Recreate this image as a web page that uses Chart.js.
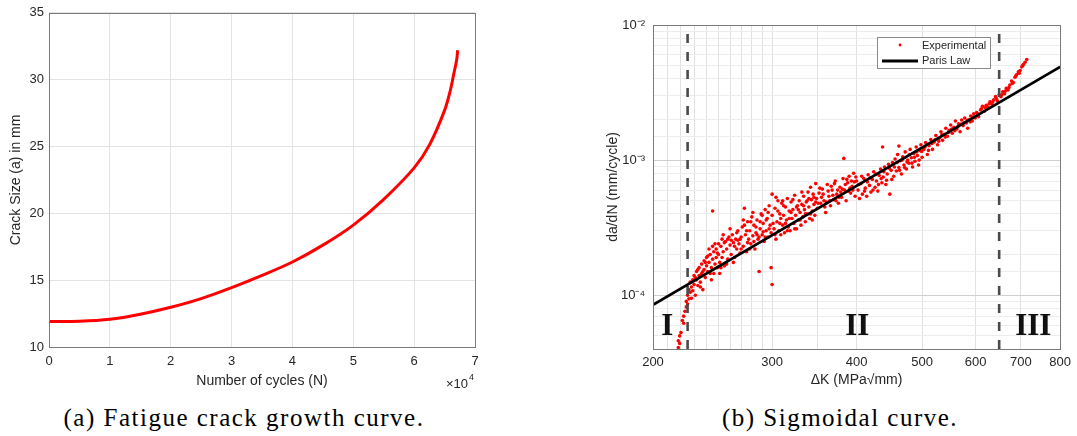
<!DOCTYPE html>
<html>
<head>
<meta charset="utf-8">
<script src="https://cdn.jsdelivr.net/npm/chart.js@4.4.0/dist/chart.umd.min.js"></script>
<style>
    html, body { margin: 0; padding: 0; background: #fff; }
    body { width: 1077px; height: 436px; position: relative; overflow: hidden; }
    .panel { position: absolute; top: 0; height: 400px; }
    #panelA { left: 0; width: 540px; }
    #panelB { left: 590px; width: 487px; }
    .caption {
        position: absolute; top: 404px;
        font-family: "Liberation Serif", serif; font-size: 25px; letter-spacing: 1.5px;
        color: #000; white-space: nowrap; transform: translateX(-50%);
    }
</style>
</head>
<body>
<div class="panel" id="panelA"><canvas id="crackChart"></canvas></div>
<div class="panel" id="panelB"><canvas id="parisChart"></canvas></div>
<div class="caption" style="left:244px">(a) Fatigue crack growth curve.</div>
<div class="caption" style="left:840px">(b) Sigmoidal curve.</div>

<script>
// -------- Datos (a) --------
const cycles = [0, 5000, 10000, 15000, 20000, 25000, 30000, 35000, 40000, 45000,
    50000, 55000, 60000, 62500, 65000, 66000, 66500, 67000, 67150];
const crackSize = [11.9, 11.92, 12.07, 12.45, 12.97, 13.62, 14.44, 15.36, 16.36, 17.62,
    19.12, 21.05, 23.4, 25.1, 27.7, 29.3, 30.4, 31.5, 32.2];

// -------- Datos (b) --------
const kTicks = [200, 300, 400, 500, 600, 700, 800];
const rateRange = [4e-5, 1e-2];
const parisK = [200, 800];
const parisRate = [8.5e-5, 4.9e-3];
const regionBounds = [225, 650];
const regionNames = ['I', 'II', 'III'];
const regionLabelK = [210, 401, 730];
const regionLabelRate = 5.85e-5;

// [ΔK, da/dN]
const experimental = [
    [218,4.1e-5],[218,4.6e-5],[219,5.0e-5],[219,4.4e-5],[220,5.3e-5],[221,6.5e-5],[222,7.0e-5],[222,6.2e-5],
    [223,7.6e-5],[224,8.2e-5],[224,9.0e-5],[225,8.6e-5],[225,1.0e-4],[226,9.4e-5],[226,1.1e-4],
    [227,1.05e-4],[227,1.25e-4],[228,1.15e-4],[228,0.95e-4],[229,1.3e-4],[229,1.08e-4],[230,1.4e-4],
    [230,1.2e-4],[231,1.0e-4],[231,1.35e-4],[232,1.5e-4],[232,1.3e-4],[233,1.18e-4],[233,1.55e-4],
    [234,1.6e-4],[234,1.4e-4],[235,1.25e-4],[235,1.15e-4],[236,1.7e-4],[236,1.45e-4],[237,1.1e-4],
    [237,1.5e-4],[238,1.55e-4],[238,1.8e-4],[239,1.35e-4],[239,1.75e-4],[240,1.65e-4],[240,1.9e-4],
    [241,1.5e-4],[241,1.95e-4],[242,1.75e-4],[242,2.2e-4],[243,2.0e-4],[243,1.45e-4],[244,1.6e-4],
    [244,1.3e-4],[245,4.2e-4],[245,1.85e-4],[245,2.3e-4],[246,2.1e-4],[246,1.45e-4],[247,1.7e-4],
    [247,2.4e-4],[248,2.2e-4],[248,1.9e-4],[249,1.6e-4],[249,2.05e-4],[250,2.4e-4],[250,2.0e-4],
    [251,1.75e-4],[251,1.45e-4],[252,2.3e-4],[252,1.6e-4],[253,2.6e-4],[253,1.9e-4],[254,2.1e-4],
    [254,2.8e-4],[255,1.65e-4],[255,2.45e-4],[256,2.5e-4],[257,2.2e-4],[257,1.7e-4],[258,1.85e-4],
    [258,2.6e-4],[259,2.7e-4],[260,2.35e-4],[260,3.1e-4],[261,2.0e-4],[261,2.55e-4],[262,2.8e-4],
    [263,2.45e-4],[263,1.75e-4],[264,1.9e-4],[264,2.3e-4],[265,2.6e-4],[266,2.2e-4],[266,2.9e-4],
    [267,3.0e-4],[267,2.55e-4],[268,2.4e-4],[269,2.05e-4],[269,2.6e-4],[270,2.7e-4],[270,2.2e-4],
    [271,3.2e-4],[272,2.3e-4],[272,3.6e-4],[273,4.4e-4],[273,3.3e-4],[274,2.8e-4],[275,2.1e-4],
    [275,3.0e-4],[276,3.5e-4],[276,2.45e-4],[277,2.6e-4],[278,3.0e-4],[278,2.2e-4],[279,2.4e-4],
    [279,3.5e-4],[280,3.8e-4],[281,2.75e-4],[281,4.1e-4],[282,3.3e-4],[282,2.5e-4],[283,2.2e-4],
    [284,2.9e-4],[284,3.2e-4],[285,3.6e-4],[285,2.8e-4],[286,2.6e-4],[287,1.5e-4],[287,2.7e-4],
    [288,3.1e-4],[288,3.5e-4],[289,4.0e-4],[290,2.8e-4],[290,3.9e-4],[291,3.4e-4],[291,2.95e-4],
    [292,2.5e-4],[293,4.3e-4],[293,2.7e-4],[294,3.0e-4],[294,3.6e-4],[295,3.7e-4],[296,2.7e-4],
    [296,4.1e-4],[297,4.6e-4],[297,3.1e-4],[298,3.3e-4],[299,2.9e-4],[299,1.6e-4],[300,1.2e-4],
    [300,5.6e-4],[300,3.9e-4],[301,3.4e-4],[302,3.1e-4],[303,4.4e-4],[303,2.8e-4],[304,2.6e-4],
    [304,5.3e-4],[305,3.5e-4],[306,5.0e-4],[306,4.2e-4],[307,3.0e-4],[308,4.0e-4],[308,3.4e-4],
    [309,2.8e-4],[309,3.7e-4],[310,4.8e-4],[311,3.3e-4],[311,5.0e-4],[312,3.9e-4],[312,4.6e-4],
    [313,2.9e-4],[314,4.5e-4],[314,3.4e-4],[315,3.6e-4],[316,5.2e-4],[316,3.0e-4],[317,3.2e-4],
    [318,4.2e-4],[318,3.7e-4],[319,3.0e-4],[320,4.9e-4],[320,4.1e-4],[321,3.7e-4],[322,4.3e-4],
    [322,5.1e-4],[323,3.4e-4],[324,5.5e-4],[324,3.1e-4],[325,3.9e-4],[326,3.1e-4],[326,4.5e-4],
    [327,4.6e-4],[328,3.6e-4],[328,4.3e-4],[329,5.0e-4],[330,4.1e-4],[330,3.6e-4],[331,3.3e-4],
    [332,4.7e-4],[332,5.8e-4],[333,3.8e-4],[334,5.4e-4],[334,4.6e-4],[335,4.3e-4],[336,3.5e-4],
    [336,4.0e-4],[337,4.9e-4],[338,4.0e-4],[338,5.0e-4],[339,5.8e-4],[340,4.5e-4],[340,5.2e-4],
    [341,3.7e-4],[342,6.3e-4],[342,4.0e-4],[343,5.1e-4],[344,4.2e-4],[344,3.6e-4],[345,5.6e-4],
    [346,4.7e-4],[346,5.3e-4],[347,3.9e-4],[348,6.7e-4],[348,4.9e-4],[349,5.2e-4],[350,4.4e-4],
    [351,4.8e-4],[352,5.7e-4],[353,6.2e-4],[354,4.8e-4],[355,5.3e-4],[356,6.1e-4],[357,5.6e-4],
    [358,5.0e-4],[359,4.5e-4],[360,4.1e-4],[361,4.9e-4],[362,6.6e-4],[363,5.9e-4],[364,5.4e-4],
    [365,5.0e-4],[366,4.6e-4],[367,6.4e-4],[368,6.0e-4],[369,5.5e-4],[370,5.1e-4],[371,6.7e-4],
    [372,7.0e-4],[373,5.0e-4],[374,5.6e-4],[375,6.0e-4],[376,4.8e-4],[377,5.3e-4],[378,6.3e-4],
    [379,5.8e-4],[380,5.3e-4],[381,6.1e-4],[382,7.3e-4],[383,1.03e-3],[384,6.0e-4],[385,6.6e-4],
    [386,5.0e-4],[387,7.2e-4],[388,6.8e-4],[389,5.9e-4],[390,7.6e-4],[391,6.2e-4],[392,5.7e-4],
    [393,7.0e-4],[394,6.4e-4],[395,6.0e-4],[396,8.0e-4],[397,6.9e-4],[398,5.4e-4],[399,7.5e-4],
    [400,7.0e-4],[402,6.0e-4],[403,6.6e-4],[404,5.2e-4],[406,6.7e-4],[407,7.6e-4],[408,5.6e-4],
    [410,7.3e-4],[411,5.9e-4],[412,6.2e-4],[414,5.4e-4],[415,6.9e-4],[416,7.8e-4],[418,6.5e-4],
    [419,7.4e-4],[420,5.8e-4],[422,7.2e-4],[423,6.0e-4],[424,8.2e-4],[426,6.3e-4],[427,7.9e-4],
    [428,7.0e-4],[430,5.9e-4],[431,6.6e-4],[432,7.7e-4],[434,8.6e-4],[435,7.3e-4],[436,6.8e-4],
    [437,1.25e-3],[438,7.5e-4],[439,8.2e-4],[440,8.9e-4],[442,6.6e-4],[443,7.1e-4],[444,7.9e-4],
    [446,9.3e-4],[447,8.7e-4],[448,5.6e-4],[450,8.4e-4],[451,7.2e-4],[452,9.6e-4],[454,7.6e-4],
    [455,8.9e-4],[456,1.02e-3],[458,8.3e-4],[459,9.6e-4],[460,1.1e-3],[462,1.27e-3],[462,8.8e-4],
    [463,8.4e-4],[464,9.9e-4],[466,7.9e-4],[467,1.0e-3],[468,1.06e-3],[470,9.2e-4],[471,8.8e-4],
    [472,1.15e-3],[474,8.6e-4],[475,9.7e-4],[476,1.0e-3],[478,9.5e-4],[479,1.1e-3],[480,1.2e-3],
    [482,1.04e-3],[483,9.5e-4],[484,8.9e-4],[486,1.12e-3],[487,1.05e-3],[488,9.8e-4],[490,1.25e-3],
    [491,1.15e-3],[492,1.08e-3],[494,9.2e-4],[495,1.0e-3],[496,1.18e-3],[498,1.3e-3],[499,1.16e-3],
    [500,1.05e-3],[503,1.2e-3],[505,1.25e-3],[506,1.35e-3],[509,1.1e-3],[511,1.18e-3],[512,1.28e-3],
    [515,1.42e-3],[517,1.33e-3],[518,1.2e-3],[521,1.36e-3],[523,1.42e-3],[524,1.52e-3],[527,1.3e-3],
    [529,1.38e-3],[530,1.45e-3],[533,1.62e-3],[535,1.55e-3],[536,1.4e-3],[539,1.55e-3],[541,1.48e-3],
    [542,1.72e-3],[545,1.5e-3],[547,1.6e-3],[548,1.66e-3],[551,1.82e-3],[553,1.7e-3],[554,1.58e-3],
    [557,1.75e-3],[559,1.65e-3],[560,1.95e-3],[563,1.7e-3],[565,1.78e-3],[566,1.86e-3],[569,1.62e-3],
    [571,1.85e-3],[572,1.98e-3],[575,1.8e-3],[577,1.9e-3],[578,2.05e-3],[581,1.88e-3],[583,1.97e-3],
    [584,1.72e-3],[587,2.0e-3],[589,1.92e-3],[590,2.12e-3],[593,1.95e-3],[595,2.08e-3],[596,2.2e-3],
    [599,2.05e-3],[602,2.25e-3],[604,2.2e-3],[606,2.1e-3],[610,2.35e-3],[612,2.4e-3],[614,2.5e-3],
    [618,2.3e-3],[620,2.45e-3],[622,2.55e-3],[626,2.45e-3],[628,2.6e-3],[630,2.7e-3],[634,2.6e-3],
    [636,2.7e-3],[638,2.8e-3],[642,2.95e-3],[644,2.85e-3],[646,2.75e-3],[650,3.05e-3],[654,2.95e-3],
    [656,3.05e-3],[658,3.2e-3],[662,3.1e-3],[664,3.25e-3],[666,3.4e-3],[670,3.3e-3],[672,3.45e-3],
    [674,3.6e-3],[678,3.85e-3],[680,3.7e-3],[682,3.75e-3],[686,4.1e-3],[688,4.2e-3],[690,4.3e-3],
    [694,4.5e-3],[696,4.4e-3],[698,4.6e-3],[702,4.9e-3],[704,5.0e-3],[706,5.1e-3],[710,5.3e-3],
    [714,5.55e-3]
];

const FONT = '"Liberation Sans", Arial, sans-serif';
const TEXT = '#262626';

// -------- Plugins --------

// marco alrededor del área (estilo MATLAB)
const frameBox = {
    id: 'frameBox',
    afterDraw(chart) {
        const { ctx, chartArea: a } = chart;
        ctx.save();
        ctx.strokeStyle = '#7a7a7a';
        ctx.lineWidth = 1;
        ctx.strokeRect(Math.round(a.left) + 0.5, Math.round(a.top) + 0.5,
            Math.round(a.right - a.left), Math.round(a.bottom - a.top));
        ctx.restore();
    }
};

const exponentLabel = {
    id: 'exponentLabel',
    afterDraw(chart) {
        const { ctx, chartArea: a } = chart;
        ctx.save();
        ctx.fillStyle = TEXT;
        ctx.textBaseline = 'alphabetic';
        ctx.textAlign = 'right';
        ctx.font = `9px ${FONT}`;
        ctx.fillText('4', a.right - 1, a.bottom + 33);
        ctx.font = `13px ${FONT}`;
        ctx.fillText('\u00d710', a.right - 7, a.bottom + 41);
        ctx.restore();
    }
};

const parisExtras = {
    id: 'parisExtras',
    afterDatasetsDraw(chart) {
        const { ctx, scales: { x, y } } = chart;
        ctx.save();

        // números romanos
        ctx.fillStyle = '#111';
        ctx.font = 'bold 31px "Liberation Serif", serif';
        ctx.textAlign = 'center';
        ctx.textBaseline = 'middle';
        regionNames.forEach((name, i) => {
            ctx.fillText(name, x.getPixelForValue(regionLabelK[i]), y.getPixelForValue(regionLabelRate));
        });

        // leyenda
        const lx = 287, ly = 37, lw = 113, lh = 31;
        ctx.fillStyle = '#fff';
        ctx.fillRect(lx, ly, lw, lh);
        ctx.strokeStyle = '#8a8a8a';
        ctx.lineWidth = 1;
        ctx.strokeRect(lx + 0.5, ly + 0.5, lw, lh);

        ctx.fillStyle = '#ff0000';
        ctx.beginPath();
        ctx.arc(310, 45, 1.4, 0, Math.PI * 2);
        ctx.fill();

        ctx.strokeStyle = '#000';
        ctx.lineWidth = 2.8;
        ctx.beginPath();
        ctx.moveTo(292, 61);
        ctx.lineTo(328, 61);
        ctx.stroke();

        ctx.fillStyle = TEXT;
        ctx.font = `11px ${FONT}`;
        ctx.textAlign = 'left';
        ctx.fillText('Experimental', 332, 46);
        ctx.fillText('Paris Law', 332, 61);
        ctx.restore();
    }
};

// -------- Helpers --------

const SUP = { '-': '\u207b', '0': '\u2070', '1': '\u00b9', '2': '\u00b2', '3': '\u00b3',
    '4': '\u2074', '5': '\u2075', '6': '\u2076', '7': '\u2077', '8': '\u2078', '9': '\u2079' };

function isDecade(v) {
    const l = Math.log10(v);
    return Math.abs(l - Math.round(l)) < 1e-6;
}

function decadeLabel(v) {
    const e = String(Math.round(Math.log10(v)));
    return '10' + e.split('').map(c => SUP[c]).join('');
}

// -------- Gráfica (a) --------

function renderCrackChart() {
    new Chart(document.getElementById('crackChart'), {
        type: 'line',
        data: {
            datasets: [{
                data: cycles.map((n, i) => ({ x: n, y: crackSize[i] })),
                borderColor: '#ff0000',
                borderWidth: 3,
                pointRadius: 0,
                tension: 0.35
            }]
        },
        options: {
            responsive: true,
            maintainAspectRatio: false,
            animation: false,
            layout: { padding: { top: 11, right: 65, left: 0, bottom: 0 } },
            plugins: { legend: { display: false }, tooltip: { enabled: false } },
            scales: {
                x: {
                    type: 'linear', min: 0, max: 70000,
                    afterFit: s => { s.height = 53; },
                    border: { display: false },
                    grid: { color: '#e3e3e3', drawTicks: false },
                    ticks: {
                        stepSize: 10000, padding: 7, maxRotation: 0,
                        color: TEXT, font: { family: FONT, size: 13 },
                        callback: v => String(v / 10000)
                    },
                    title: {
                        display: true, text: 'Number of cycles (N)',
                        color: TEXT, font: { family: FONT, size: 14 },
                        padding: { top: 0, bottom: 10.6 }
                    }
                },
                y: {
                    min: 10, max: 35,
                    afterFit: s => { s.width = 49; },
                    border: { display: false },
                    grid: { color: '#e3e3e3', drawTicks: false },
                    ticks: {
                        stepSize: 5, padding: 5,
                        color: TEXT, font: { family: FONT, size: 13 }
                    },
                    title: {
                        display: true, text: 'Crack Size (a) in mm',
                        color: TEXT, font: { family: FONT, size: 14 },
                        padding: { top: 7.6, bottom: 0 }
                    }
                }
            }
        },
        plugins: [frameBox, exponentLabel]
    });
}

// -------- Gráfica (b) --------

function renderParisChart() {
    const boundSets = regionBounds.map(k => ({
        data: [{ x: k, y: rateRange[0] }, { x: k, y: rateRange[1] }],
        showLine: true,
        borderColor: '#4a4a4a',
        borderWidth: 2.6,
        borderDash: [9, 9],
        pointRadius: 0,
        order: 1
    }));

    new Chart(document.getElementById('parisChart'), {
        type: 'scatter',
        data: {
            datasets: [
                {
                    label: 'Paris Law',
                    data: parisK.map((k, i) => ({ x: k, y: parisRate[i] })),
                    showLine: true,
                    borderColor: '#000',
                    borderWidth: 2.8,
                    pointRadius: 0,
                    order: 0
                },
                ...boundSets,
                {
                    label: 'Experimental',
                    data: experimental.map(([k, r]) => ({ x: k, y: r })),
                    pointRadius: 1.8,
                    pointBorderWidth: 0,
                    backgroundColor: '#ff0000',
                    order: 3
                }
            ]
        },
        options: {
            responsive: true,
            maintainAspectRatio: false,
            animation: false,
            layout: { padding: { top: 25, right: 12, left: 0, bottom: 0 } },
            plugins: { legend: { display: false }, tooltip: { enabled: false } },
            scales: {
                x: {
                    type: 'logarithmic', min: 200, max: 800,
                    afterFit: s => { s.height = 51; },
                    border: { display: false },
                    grid: { color: '#e1e1e1', drawTicks: false },
                    ticks: {
                        padding: 6, autoSkip: false, maxRotation: 0,
                        color: TEXT, font: { family: FONT, size: 13 },
                        callback: v => kTicks.includes(Math.round(v)) ? String(Math.round(v)) : ''
                    },
                    title: {
                        display: true, text: '\u0394K (MPa\u221amm)',
                        color: TEXT, font: { family: FONT, size: 14 },
                        padding: { top: 0, bottom: 11.6 }
                    }
                },
                y: {
                    type: 'logarithmic', min: rateRange[0], max: rateRange[1],
                    afterFit: s => { s.width = 63; },
                    border: { display: false },
                    grid: {
                        drawTicks: false,
                        color: c => isDecade(c.tick.value) ? '#cfcfcf' : '#ececec'
                    },
                    ticks: {
                        padding: 8, autoSkip: false,
                        color: TEXT, font: { family: FONT, size: 13 },
                        callback: v => isDecade(v) ? decadeLabel(v) : ''
                    },
                    title: {
                        display: true, text: 'da/dN (mm/cycle)',
                        color: TEXT, font: { family: FONT, size: 14 },
                        padding: { top: 14.6, bottom: 0 }
                    }
                }
            }
        },
        plugins: [frameBox, parisExtras]
    });
}

renderCrackChart();
renderParisChart();
</script>
</body>
</html>
